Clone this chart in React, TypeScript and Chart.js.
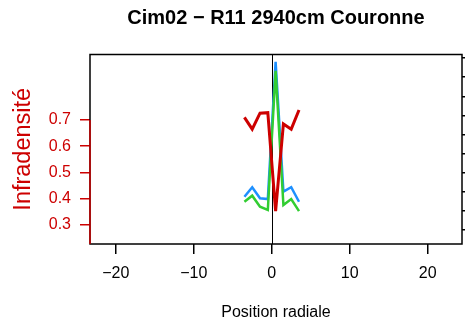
import React, { useEffect, useRef } from "react";
import { Chart, registerables } from "chart.js";

Chart.register(...registerables);

const positions = [-3.5, -2.5, -1.5, -0.5, 0.5, 1.5, 2.5, 3.5];
const infradensite = [0.71, 0.665, 0.726, 0.728, 0.353, 0.685, 0.665, 0.738];
const serieBleue = [0.174, 0.224, 0.166, 0.162, 0.881, 0.201, 0.224, 0.148];
const serieVerte = [0.148, 0.18, 0.122, 0.105, 0.834, 0.131, 0.162, 0.099];
const xTicks = [-20, -10, 0, 10, 20];
const yTicks = [0.3, 0.4, 0.5, 0.6, 0.7];
const y1Ticks = [0, 0.1, 0.2, 0.3, 0.4, 0.5, 0.6, 0.7, 0.8, 0.9];

const FONT = "'Liberation Sans', Arial, sans-serif";
const RED = "#CD0000";

const fmt = (v: number, d: number) => {
  const s = Math.abs(v).toFixed(d);
  return v < 0 ? "\u2212" + s : s;
};

const boxPlugin = {
  id: "boxPlugin",
  beforeDatasetsDraw(chart: any) {
    const { ctx, chartArea, scales } = chart;
    const x0 = scales.x.getPixelForValue(0);
    ctx.save();
    ctx.strokeStyle = "#000";
    ctx.lineWidth = 1;
    ctx.beginPath();
    ctx.moveTo(Math.round(x0) + 0.5, chartArea.top);
    ctx.lineTo(Math.round(x0) + 0.5, chartArea.bottom);
    ctx.stroke();
    ctx.restore();
  },
  afterDatasetsDraw(chart: any) {
    const { ctx, chartArea, scales } = chart;
    ctx.save();
    ctx.strokeStyle = "#000";
    ctx.lineWidth = 1.5;
    ctx.strokeRect(chartArea.left, chartArea.top, chartArea.right - chartArea.left, chartArea.bottom - chartArea.top);
    ctx.strokeStyle = RED;
    ctx.beginPath();
    ctx.moveTo(chartArea.left, scales.y.getPixelForValue(0.7));
    ctx.lineTo(chartArea.left, chartArea.bottom);
    ctx.stroke();
    ctx.restore();
  },
};

export default function App() {
  const ref = useRef<HTMLCanvasElement | null>(null);
  useEffect(() => {
    if (!ref.current) return;
    const mk = (arr: number[]) => positions.map((x, i) => ({ x, y: arr[i] }));
    const chart = new Chart(ref.current, {
      type: "line",
      data: {
        datasets: [
          { label: "Infradensité", data: mk(infradensite), borderColor: RED, borderWidth: 3, yAxisID: "y", order: 0 },
          { label: "Vert", data: mk(serieVerte), borderColor: "#32CD32", borderWidth: 2.5, yAxisID: "y1", order: 1 },
          { label: "Bleu", data: mk(serieBleue), borderColor: "#1E90FF", borderWidth: 2.5, yAxisID: "y1", order: 2 },
        ],
      } as any,
      options: {
        responsive: false,
        animation: false,
        events: [],
        elements: { point: { radius: 0 }, line: { tension: 0 } },
        layout: { padding: 0 },
        plugins: {
          legend: { display: false },
          tooltip: { enabled: false },
          title: {
            display: true,
            fullSize: false,
            text: "Cim02 \u2212 R11 2940cm Couronne",
            color: "#000",
            font: { family: FONT, size: 20, weight: "bold" },
            padding: { top: 6, bottom: 24.5 },
          },
        },
        scales: {
          x: {
            type: "linear",
            min: -23.3,
            max: 24.4,
            afterBuildTicks: (s: any) => { s.ticks = xTicks.map((v) => ({ value: v })); },
            afterFit: (s: any) => { s.height = 82; },
            border: { display: false },
            grid: { drawOnChartArea: false, drawTicks: true, tickLength: 10, color: "#000", lineWidth: 1.5 },
            ticks: { color: "#000", font: { family: FONT, size: 16 }, padding: 10, maxRotation: 0, autoSkip: false, callback: (v: any) => fmt(Number(v), 0) },
            title: { display: true, text: "Position radiale", color: "#000", font: { family: FONT, size: 16 }, padding: { top: 0, bottom: 3.4 } },
          },
          y: {
            type: "linear",
            position: "left",
            min: 0.2276,
            max: 0.9495,
            afterBuildTicks: (s: any) => { s.ticks = yTicks.map((v) => ({ value: v })); },
            afterFit: (s: any) => { s.width = 90; },
            border: { display: false },
            grid: { drawOnChartArea: false, drawTicks: true, tickLength: 10, color: RED, lineWidth: 1.5 },
            ticks: { color: RED, font: { family: FONT, size: 16 }, padding: 9, autoSkip: false, callback: (v: any) => fmt(Number(v), 1) },
            title: { display: true, text: "Infradensité", color: RED, font: { family: FONT, size: 23.5 }, padding: { top: 9, bottom: 0 } },
          },
          y1: {
            type: "linear",
            position: "right",
            min: -0.073,
            max: 0.919,
            afterBuildTicks: (s: any) => { s.ticks = y1Ticks.map((v) => ({ value: v })); },
            afterFit: (s: any) => { s.width = 3; },
            border: { display: false },
            grid: { drawOnChartArea: false, drawTicks: true, tickLength: 8, color: "#000", lineWidth: 1.5 },
            ticks: { display: false },
          },
        },
      } as any,
      plugins: [boxPlugin],
    });
    return () => chart.destroy();
  }, []);
  return (
    <div style={{ position: "absolute", left: 0, top: 0, width: 465, height: 326, background: "#fff" }}>
      <canvas ref={ref} width={465} height={326} style={{ display: "block" }} />
    </div>
  );
}
